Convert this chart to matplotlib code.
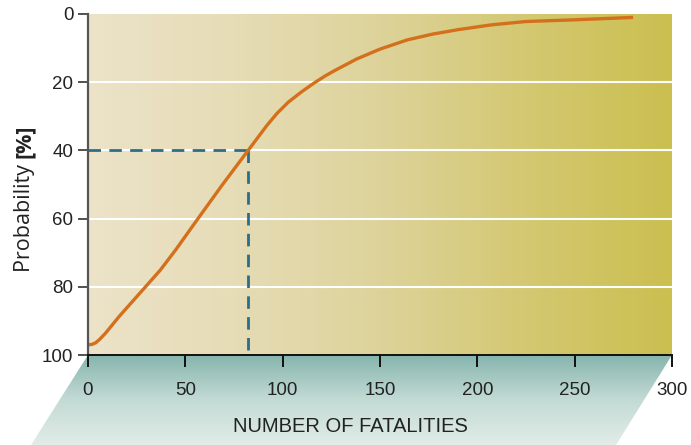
import numpy as np
import matplotlib
matplotlib.use("Agg")
import matplotlib.pyplot as plt
from matplotlib.colors import LinearSegmentedColormap
from matplotlib.patches import Polygon

# Cumulative probability curve (x = fatalities, y = probability in %)
fatalities = [0, 2, 4, 6, 9, 12, 16, 23, 30, 37, 45, 56, 69, 82, 87, 92, 97,
              103, 110, 116, 122, 127, 138, 150, 164, 177, 190, 207, 225,
              250, 280]
probability = [97.0, 96.9, 96.4, 95.4, 93.6, 91.5, 88.7, 84.2, 79.7, 75.2,
               69.2, 60.4, 50.1, 40.2, 36.4, 32.6, 29.2, 25.8, 22.7, 20.3,
               18.1, 16.5, 13.2, 10.3, 7.6, 5.9, 4.6, 3.2, 2.2, 1.7, 1.0]

# Reading marker: 40 % probability at about 82 fatalities
marker_x = 82
marker_y = 40

x_ticks = [0, 50, 100, 150, 200, 250, 300]
y_ticks = [0, 20, 40, 60, 80, 100]

W, H = 691, 445
fig = plt.figure(figsize=(W / 100, H / 100), dpi=100)

tick_font = {'family': ['Liberation Sans', 'DejaVu Sans'], 'size': 13.5}

# Parallelogram base under the x axis
base_ax = fig.add_axes([0, 0, 1, 1])
base_ax.set_xlim(0, W)
base_ax.set_ylim(H, 0)
base_ax.axis('off')
teal = LinearSegmentedColormap.from_list('teal', ['#86b5ae', '#c3dbd4', '#e2ece8'])
grad = np.linspace(0, 1, 256).reshape(-1, 1)
img = base_ax.imshow(grad, cmap=teal, aspect='auto', extent=[0, W, H, 355], zorder=0)
para = Polygon([[88, 355], [672, 355], [616, 445], [31, 445]], closed=True,
               transform=base_ax.transData, facecolor='none', edgecolor='none')
base_ax.add_patch(para)
img.set_clip_path(para)

# Main plot axes
ax = fig.add_axes([88 / W, (H - 355) / H, (672 - 88) / W, (355 - 14) / H])
ax.set_xlim(0, 300)
ax.set_ylim(100, 0)

bg = LinearSegmentedColormap.from_list('sand', ['#ece3c9', '#e6dcb6', '#ddd39a', '#d4c872', '#cbbf50'])
hgrad = np.linspace(0, 1, 256).reshape(1, -1)
ax.imshow(hgrad, cmap=bg, aspect='auto', extent=[0, 1, 0, 1],
          transform=ax.transAxes, zorder=0)

for yv in y_ticks[1:-1]:
    ax.axhline(yv, color='white', lw=1.5, zorder=1)

ax.plot([0, marker_x], [marker_y, marker_y], color='#2a6d8c', lw=2,
        dashes=(4.5, 3), zorder=2)
ax.plot([marker_x, marker_x], [marker_y, 100], color='#2a6d8c', lw=2,
        dashes=(4.5, 3), zorder=2)

ax.plot(fatalities, probability, color='#d4701c', lw=2.4, zorder=3,
        solid_capstyle='butt', solid_joinstyle='round')

for s in ['top', 'right']:
    ax.spines[s].set_visible(False)
ax.spines['left'].set_color('#555555')
ax.spines['left'].set_linewidth(1.6)
ax.spines['bottom'].set_color('#111111')
ax.spines['bottom'].set_linewidth(1.4)
ax.spines['left'].set_zorder(4)
ax.spines['bottom'].set_zorder(4)

ax.set_xticks(x_ticks)
ax.set_yticks(y_ticks)
ax.set_xticklabels([str(v) for v in x_ticks], fontdict=tick_font, color='#222222')
ax.set_yticklabels([str(v) for v in y_ticks], fontdict=tick_font, color='#222222')
ax.tick_params(axis='x', direction='out', length=8.5, width=1.4, color='#111111', pad=11)
ax.tick_params(axis='y', direction='out', length=7.5, width=1.2, color='#333333', pad=3)

# Y label: regular "Probability" followed by a bold "[%]"
label_font = ['Open Sans', 'DejaVu Sans']
t1 = fig.text(30 / W, 1 - 272 / H, 'Probability ', rotation=90,
              rotation_mode='anchor', ha='left', va='baseline',
              fontsize=15.5, color='#222222', family=label_font)
fig.canvas.draw()
bb = t1.get_window_extent()
t2 = fig.text(30 / W, bb.y1 / H, '[%]', rotation=90, rotation_mode='anchor',
              ha='left', va='baseline', fontsize=15.5, fontweight='bold',
              color='#222222', family=label_font)

fig.text(350 / W, 1 - 426 / H, 'NUMBER OF FATALITIES', ha='center', va='center',
         fontsize=14.5, color='#222222', family=['Liberation Sans', 'DejaVu Sans'])

fig.savefig('out.png', dpi=100)
